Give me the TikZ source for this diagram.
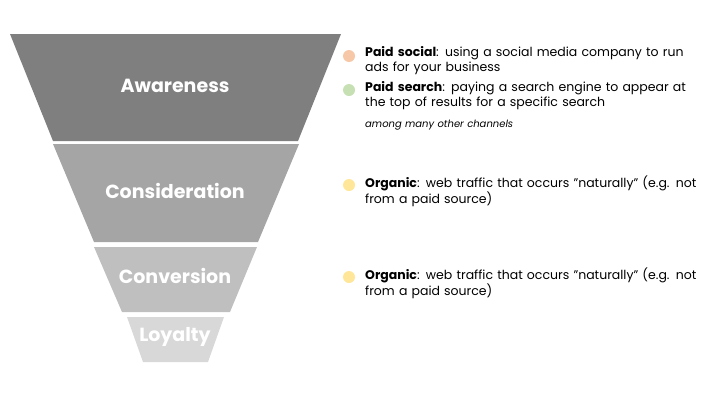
\documentclass[tikz,border=0pt]{standalone}
\usepackage{fontspec}
\setmainfont{Poppins}
\begin{document}
\begin{tikzpicture}[x=1pt,y=-1pt,
  lbl/.style={text=white,font=\bfseries\fontsize{19}{22}\selectfont},
  desc/.style={anchor=north west,align=left,font=\fontsize{12.5}{15}\selectfont,inner sep=0pt,text width=370pt},
  dot/.style={circle,inner sep=0pt,minimum size=12pt}]
\useasboundingbox (0,0) rectangle (720,405);
\fill[fill={rgb,255:red,127;green,127;blue,127}] (10,34) -- (341,34) -- (298,141) -- (53,141) -- cycle;
\fill[fill={rgb,255:red,165;green,165;blue,165}] (53,144) -- (299,144) -- (258,242) -- (94,242) -- cycle;
\fill[fill={rgb,255:red,191;green,191;blue,191}] (94,247) -- (257,247) -- (230,312) -- (122,312) -- cycle;
\fill[fill={rgb,255:red,216;green,216;blue,216}] (127,317) -- (224,317) -- (208,362) -- (143,362) -- cycle;
\node[lbl] (aw) at (175,86) {Awareness};
\node[lbl] (co) at (175,191) {Consideration};
\node[lbl] (cv) at (175,276) {Conversion};
\node[lbl] (lo) at (175,337) {Loyalty};
\node[dot,fill={rgb,255:red,246;green,200;blue,168}] (d1) at (349,56) {};
\node[dot,fill={rgb,255:red,198;green,224;blue,180}] (d2) at (349,90) {};
\node[dot,fill={rgb,255:red,255;green,230;blue,153}] (d3) at (349,185) {};
\node[dot,fill={rgb,255:red,255;green,230;blue,153}] (d4) at (349,277) {};
\node[desc] (t1) at (365,46) {\textbf{Paid social}: using a social media company to run\\ads for your business};
\node[desc] (t2) at (365,81) {\textbf{Paid search}: paying a search engine to appear at\\the top of results for a specific search};
\node[desc,font=\itshape\fontsize{10}{12}\selectfont] (t3) at (365,120) {among many other channels};
\node[desc] (t4) at (365,176) {\textbf{Organic}: web traffic that occurs ”naturally” (e.g. not\\from a paid source)};
\node[desc] (t5) at (365,268) {\textbf{Organic}: web traffic that occurs ”naturally” (e.g. not\\from a paid source)};
\end{tikzpicture}
\end{document}
